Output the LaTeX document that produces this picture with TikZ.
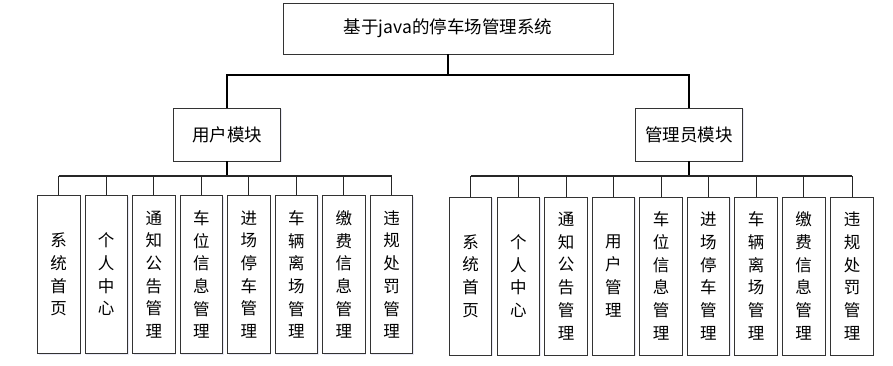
\documentclass[tikz,border=0pt]{standalone}
\usepackage{fontspec}
\newfontfamily\cjk{Noto Sans CJK SC}
\usetikzlibrary{shadows}
\begin{document}
\begin{tikzpicture}[x=1pt,y=-1pt,
  box/.style={draw=black!80,line width=0.9pt,fill=white,
    drop shadow={opacity=0.12,shadow xshift=1.2pt,shadow yshift=-1.2pt,fill=blue!40!gray}},
  topbox/.style={box,minimum width=330pt,minimum height=51pt,font=\cjk\fontsize{17.5}{20}\selectfont},
  modbox/.style={box,minimum width=107pt,minimum height=53pt,font=\cjk\fontsize{17.5}{20}\selectfont},
  leaf/.style={box,minimum width=42.5pt,minimum height=158pt,inner sep=0pt,align=center,
    font=\cjk\fontsize{16.5}{22.7}\selectfont},
  main/.style={line width=1.6pt,black},
  bus/.style={line width=1.2pt,black!85},
  drop/.style={line width=0.9pt,black!85}]
\useasboundingbox (0,0) rectangle (893,365);
% top
\node[topbox] (top) at (448,28.5) {基于java的停车场管理系统};
\coordinate (tb) at (448,75);
% modules
\node[modbox] (um) at (227,134.5) {用户模块};
\node[modbox] (am) at (689,134.5) {管理员模块};
\draw[main] (top.south) -- (tb);
\draw[main] (um.north) -- (um.north |- tb) -- (am.north |- tb) -- (am.north);
% user leaves
\coordinate (ubus) at (227,176);
\node[leaf] (u1) at (58.7,274.5) {系\\统\\首\\页};
\node[leaf] (u2) at (106.2,274.5) {个\\人\\中\\心};
\node[leaf] (u3) at (153.8,274.5) {通\\知\\公\\告\\管\\理};
\node[leaf] (u4) at (201.3,274.5) {车\\位\\信\\息\\管\\理};
\node[leaf] (u5) at (248.8,274.5) {进\\场\\停\\车\\管\\理};
\node[leaf] (u6) at (296.3,274.5) {车\\辆\\离\\场\\管\\理};
\node[leaf] (u7) at (343.8,274.5) {缴\\费\\信\\息\\管\\理};
\node[leaf] (u8) at (391.5,274.5) {违\\规\\处\\罚\\管\\理};
\draw[main] (um.south) -- (ubus);
\draw[bus] (u1.north |- ubus) -- (u8.north |- ubus);
\foreach \i in {1,...,8} \draw[drop] (u\i.north) -- (u\i.north |- ubus);
% admin leaves
\coordinate (abus) at (689,176);
\node[leaf] (a1) at (470.5,276) {系\\统\\首\\页};
\node[leaf] (a2) at (518.3,276) {个\\人\\中\\心};
\node[leaf] (a3) at (566,276) {通\\知\\公\\告\\管\\理};
\node[leaf] (a4) at (613.3,276) {用\\户\\管\\理};
\node[leaf] (a5) at (661,276) {车\\位\\信\\息\\管\\理};
\node[leaf] (a6) at (708.3,276) {进\\场\\停\\车\\管\\理};
\node[leaf] (a7) at (756,276) {车\\辆\\离\\场\\管\\理};
\node[leaf] (a8) at (803.7,276) {缴\\费\\信\\息\\管\\理};
\node[leaf] (a9) at (852,276) {违\\规\\处\\罚\\管\\理};
\draw[main] (am.south) -- (abus);
\draw[bus] (a1.north |- abus) -- (a9.north |- abus);
\foreach \i in {1,...,9} \draw[drop] (a\i.north) -- (a\i.north |- abus);
\end{tikzpicture}
\end{document}
